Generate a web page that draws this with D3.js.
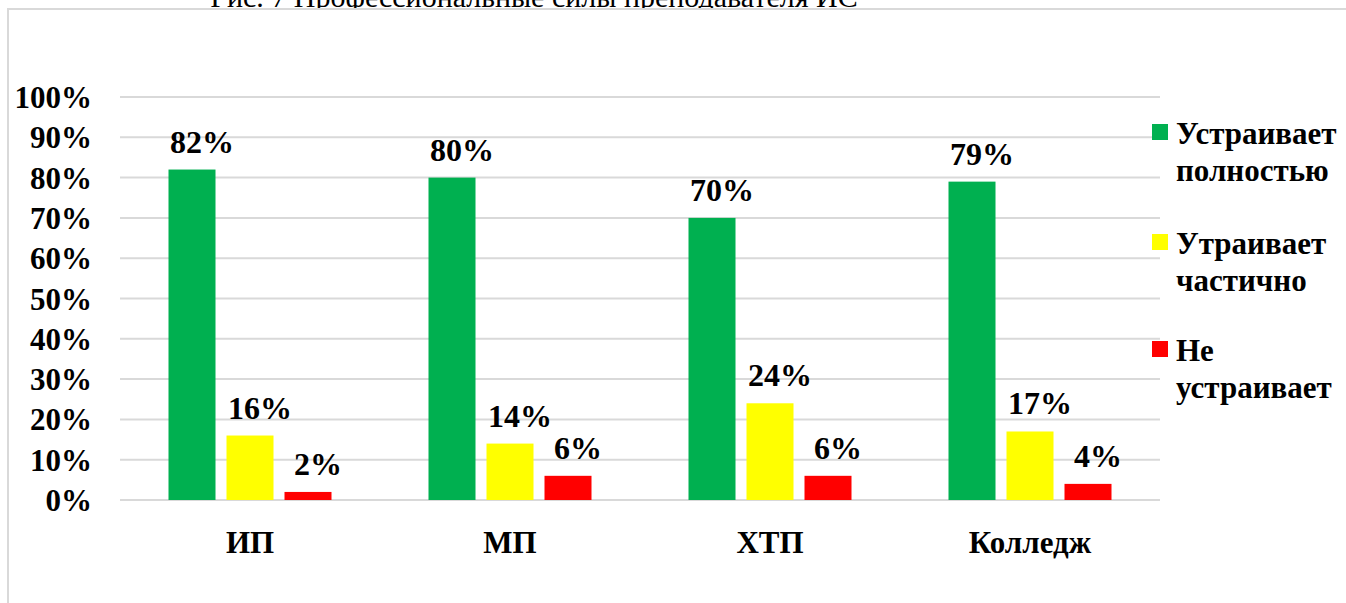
<!DOCTYPE html>
<html><head><meta charset="utf-8">
<script src="https://cdn.jsdelivr.net/npm/d3@7"></script>
<style>html,body{margin:0;padding:0;background:#fff;overflow:hidden}</style>
</head><body>
<svg id="c" width="1346" height="603"></svg>
<script>
const categories = ["ИП", "МП", "ХТП", "Колледж"];
const legendLines = [["Устраивает", "полностью"], ["Утраивает", "частично"], ["Не", "устраивает"]];
const fullyValues = [82, 80, 70, 79];
const partlyValues = [16, 14, 24, 17];
const notValues = [2, 6, 6, 4];
const yTicks = [0, 10, 20, 30, 40, 50, 60, 70, 80, 90, 100];
const colors = ["#00B050", "#FFFF00", "#FF0000"];
const title = "Рис. 7 Профессиональные силы преподавателя ИС";

const series = [fullyValues, partlyValues, notValues];
const svg = d3.select("#c");
const font = "'Liberation Serif','Times New Roman',serif";

// title (cut off at top, as in the reference)
svg.append("text").attr("x", 534).attr("y", 7).attr("text-anchor", "middle")
  .attr("font-family", font).attr("font-size", 30).text(title);

// frame
svg.append("rect").attr("x", 8).attr("y", 9).attr("width", 1400).attr("height", 700)
  .attr("fill", "#fff").attr("stroke", "#d9d9d9").attr("stroke-width", 2);

const x0 = d3.scaleBand().domain(categories).range([120, 1160]).paddingInner(0).paddingOuter(0);
const barW = 47, step = 58;
const y = d3.scaleLinear().domain([0, 100]).range([500, 97]);

// gridlines
svg.append("g").selectAll("line").data(yTicks).join("line")
  .attr("x1", 120).attr("x2", 1160).attr("y1", d => y(d)).attr("y2", d => y(d))
  .attr("stroke", "#d9d9d9").attr("stroke-width", 2);

// y axis labels
const yAxis = d3.axisLeft(y).tickValues(yTicks).tickFormat(d => d + "%").tickSize(0).tickPadding(0);
const ya = svg.append("g").attr("transform", "translate(92,0)").call(yAxis);
ya.select(".domain").remove();
ya.selectAll("text").attr("font-family", font).attr("font-size", 31).attr("font-weight", "bold")
  .attr("fill", "#000").attr("dy", "0.34em");

// bars
series.forEach((vals, si) => {
  const g = svg.append("g");
  g.selectAll("rect").data(categories).join("rect")
    .attr("x", (c) => x0(c) + x0.bandwidth() / 2 + (si - 1) * step - barW / 2)
    .attr("y", (c, i) => y(vals[i]))
    .attr("width", barW)
    .attr("height", (c, i) => y(0) - y(vals[i]))
    .attr("fill", colors[si]);
  g.selectAll("text").data(categories).join("text")
    .attr("x", (c) => x0(c) + x0.bandwidth() / 2 + (si - 1) * step + 10)
    .attr("y", (c, i) => y(vals[i]) - 17)
    .attr("text-anchor", "middle")
    .attr("font-family", font).attr("font-size", 32).attr("font-weight", "bold")
    .text((c, i) => vals[i] + "%");
});

// category axis
const xAxis = d3.axisBottom(x0).tickSize(0).tickPadding(0);
const xa = svg.append("g").attr("transform", "translate(0,553)").call(xAxis);
xa.select(".domain").remove();
xa.selectAll("text").attr("font-family", font).attr("font-size", 31).attr("font-weight", "bold")
  .attr("fill", "#000").attr("dy", "0");

// legend
const legTop = [124, 234, 341];
legendLines.forEach((lines, i) => {
  const g = svg.append("g");
  g.append("rect").attr("x", 1152).attr("y", legTop[i]).attr("width", 16).attr("height", 16).attr("fill", colors[i]);
  lines.forEach((t, j) => {
    g.append("text").attr("x", 1176).attr("y", legTop[i] + 20 + j * 37)
      .attr("font-family", font).attr("font-size", 31).attr("font-weight", "bold").text(t);
  });
});
</script>
</body></html>
